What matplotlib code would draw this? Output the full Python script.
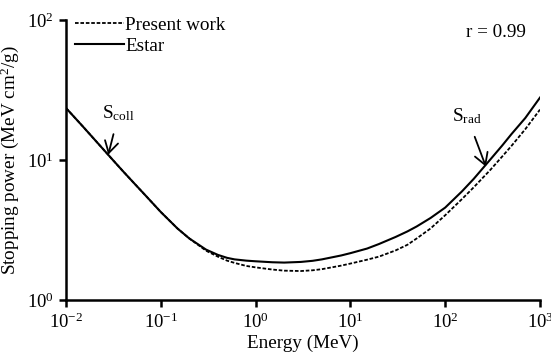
import matplotlib
matplotlib.use('Agg')
import matplotlib.pyplot as plt

plt.rcParams['font.family'] = ['Liberation Serif', 'DejaVu Serif']
plt.rcParams['mathtext.fontset'] = 'custom'
plt.rcParams['mathtext.rm'] = 'Liberation Serif'
plt.rcParams['mathtext.it'] = 'Liberation Serif:italic'

# energies in MeV, stopping power in MeV cm^2/g
energy = [0.01, 0.015, 0.02, 0.03, 0.04, 0.05, 0.07, 0.1, 0.15, 0.2, 0.3, 0.4,
          0.5, 0.6, 0.8, 1, 1.5, 2, 3, 4, 5, 8, 10, 15, 20, 30, 40, 50, 70,
          100, 150, 200, 300, 400, 500, 700, 1000]
estar = [23.5, 17.4, 14.0, 10.3, 8.3, 7.05, 5.52, 4.25, 3.24, 2.75, 2.29, 2.10,
         2.00, 1.95, 1.91, 1.89, 1.86, 1.85, 1.87, 1.905, 1.95, 2.08, 2.16, 2.33,
         2.51, 2.82, 3.09, 3.35, 3.85, 4.57, 5.96, 7.33, 10.1, 12.7, 15.3, 19.95, 27.9]
present = [23.5, 17.4, 14.0, 10.3, 8.3, 7.05, 5.52, 4.25, 3.24, 2.75, 2.25, 2.04,
           1.91, 1.84, 1.75, 1.71, 1.65, 1.62, 1.61, 1.63, 1.66, 1.76, 1.82, 1.94,
           2.04, 2.26, 2.48, 2.75, 3.24, 4.03, 5.25, 6.38, 8.51, 10.6, 12.6, 16.6, 22.9]

fig = plt.figure(figsize=(5.51, 3.62), dpi=100)
ax = fig.add_axes([0.1198, 0.1713, 0.8602, 0.7735])

ax.plot(energy, present, color='black', lw=1.3, ls=(0, (2, 1)), label='Present work')
ax.plot(energy, estar, color='black', lw=1.5, label='Estar')

ax.set_xscale('log')
ax.set_yscale('log')
ax.set_xlim(1e-2, 1e3)
ax.set_ylim(1, 100)
ax.minorticks_off()

for s in ['top', 'right']:
    ax.spines[s].set_visible(False)
for s in ['left', 'bottom']:
    ax.spines[s].set_linewidth(1.8)
ax.tick_params(direction='out', length=5, width=1.8, labelsize=13.5, pad=4)

ax.set_xlabel('Energy (MeV)', fontsize=13.8, labelpad=2)
ax.set_ylabel('Stopping power (MeV cm$^2$/g)', fontsize=13.8, labelpad=4)

ax.legend(loc='upper left', bbox_to_anchor=(-0.01, 1.06), frameon=False, fontsize=13.8,
          handlelength=2.55, handletextpad=0.1, labelspacing=0.18, borderaxespad=0.3)

ax.text(0.97, 0.957, 'r = 0.99', transform=ax.transAxes, ha='right', va='center', fontsize=13.8)

ax.annotate('S$_{\\mathrm{coll}}$', xy=(0.0279, 10.9), xytext=(0.036, 21.5),
            ha='center', va='center', fontsize=13.8,
            arrowprops=dict(arrowstyle='->,head_length=0.6,head_width=0.35', color='black', lw=1.3,
                            shrinkA=6, shrinkB=0))
ax.annotate('S$_{\\mathrm{rad}}$', xy=(269, 8.96), xytext=(170, 20.5),
            ha='center', va='center', fontsize=13.8,
            arrowprops=dict(arrowstyle='->,head_length=0.6,head_width=0.35', color='black', lw=1.3,
                            shrinkA=6, shrinkB=0))

fig.savefig('out.png', dpi=100)
